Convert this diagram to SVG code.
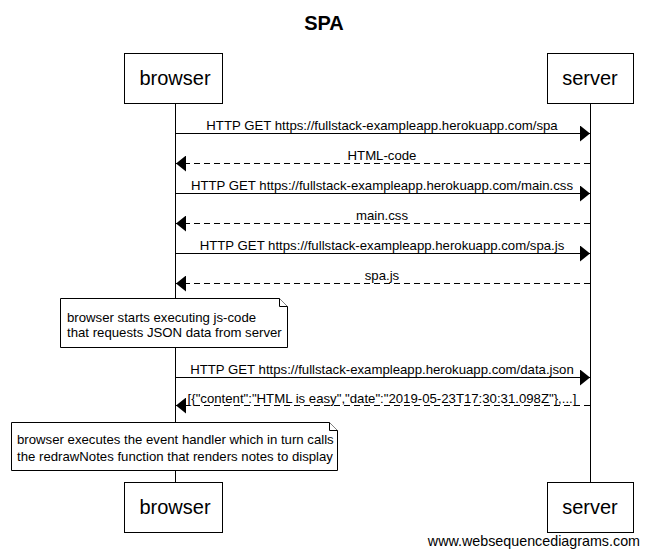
<svg xmlns="http://www.w3.org/2000/svg" width="648" height="556" viewBox="0 0 648 556">
<style>
text{font-family:"Liberation Sans",Arial,sans-serif;fill:#000}
.box{fill:#fff;stroke:#000;stroke-width:1}
.pl{font-size:20px;text-anchor:middle}
.msg{font-size:13.2px;text-anchor:middle}
.nt{font-size:13.2px}
.life{stroke:#000;stroke-width:1}
.sol{stroke:#000;stroke-width:1;fill:none}
.dash{stroke:#000;stroke-width:1;fill:none;stroke-dasharray:6,4}
.note{fill:#fff;stroke:#000;stroke-width:1}
</style>
<defs>
<marker id="ah" viewBox="0 0 10 16" refX="10" refY="8" markerWidth="10" markerHeight="16" markerUnits="userSpaceOnUse" orient="auto">
<path d="M0,0 L10,8 L0,16 Z" fill="#000"/>
</marker>
</defs>
<rect width="648" height="556" fill="#fff"/>
<text x="324" y="30" font-size="20" font-weight="bold" text-anchor="middle">SPA</text>
<g id="lifelines">
<line class="life" x1="175.5" y1="103" x2="175.5" y2="482"/>
<line class="life" x1="590.5" y1="103" x2="590.5" y2="482"/>
</g>
<g id="browser">
<rect class="box" x="124.5" y="53.5" width="98" height="50"/>
<text class="pl" x="175" y="85">browser</text>
</g>
<g id="server">
<rect class="box" x="547.5" y="53.5" width="86" height="50"/>
<text class="pl" x="590" y="85">server</text>
</g>
<g id="browser-bottom">
<rect class="box" x="124.5" y="482.5" width="98" height="50"/>
<text class="pl" x="175" y="514">browser</text>
</g>
<g id="server-bottom">
<rect class="box" x="547.5" y="482.5" width="86" height="50"/>
<text class="pl" x="590" y="514">server</text>
</g>
<g id="connectors">
<line class="sol" x1="175.5" y1="133.5" x2="590" y2="133.5" marker-end="url(#ah)"/>
<text class="msg" x="382" y="130">HTTP GET https://fullstack-exampleapp.herokuapp.com/spa</text>
<line class="dash" x1="590" y1="163.5" x2="176" y2="163.5" marker-end="url(#ah)"/>
<text class="msg" x="382" y="160">HTML-code</text>
<line class="sol" x1="175.5" y1="193.5" x2="590" y2="193.5" marker-end="url(#ah)"/>
<text class="msg" x="382" y="190">HTTP GET https://fullstack-exampleapp.herokuapp.com/main.css</text>
<line class="dash" x1="590" y1="223.5" x2="176" y2="223.5" marker-end="url(#ah)"/>
<text class="msg" x="382" y="220">main.css</text>
<line class="sol" x1="175.5" y1="253.5" x2="590" y2="253.5" marker-end="url(#ah)"/>
<text class="msg" x="382" y="250">HTTP GET https://fullstack-exampleapp.herokuapp.com/spa.js</text>
<line class="dash" x1="590" y1="283.5" x2="176" y2="283.5" marker-end="url(#ah)"/>
<text class="msg" x="382" y="280">spa.js</text>
<line class="sol" x1="175.5" y1="377.5" x2="590" y2="377.5" marker-end="url(#ah)"/>
<text class="msg" x="382" y="374">HTTP GET https://fullstack-exampleapp.herokuapp.com/data.json</text>
<line class="dash" x1="590" y1="405.5" x2="176" y2="405.5" marker-end="url(#ah)"/>
<text class="msg" x="382" y="403">[{"content":"HTML is easy","date":"2019-05-23T17:30:31.098Z"},...]</text>
</g>
<g id="note1">
<path class="note" d="M60.5,298.5 H279.5 L287.5,306.5 V347.5 H60.5 Z"/>
<path class="note" d="M279.5,298.5 V306.5 H287.5" fill="none"/>
<text class="nt" x="67" y="322">browser starts executing js-code</text>
<text class="nt" x="67" y="337">that requests JSON data from server</text>
</g>
<g id="note2">
<path class="note" d="M11.5,422.5 H329.5 L337.5,430.5 V470.5 H11.5 Z"/>
<path class="note" d="M329.5,422.5 V430.5 H337.5" fill="none"/>
<text class="nt" x="17" y="444">browser executes the event handler which in turn calls</text>
<text class="nt" x="17" y="461">the redrawNotes function that renders notes to display</text>
</g>
<text x="640" y="546" font-size="14.3" text-anchor="end">www.websequencediagrams.com</text>
</svg>
